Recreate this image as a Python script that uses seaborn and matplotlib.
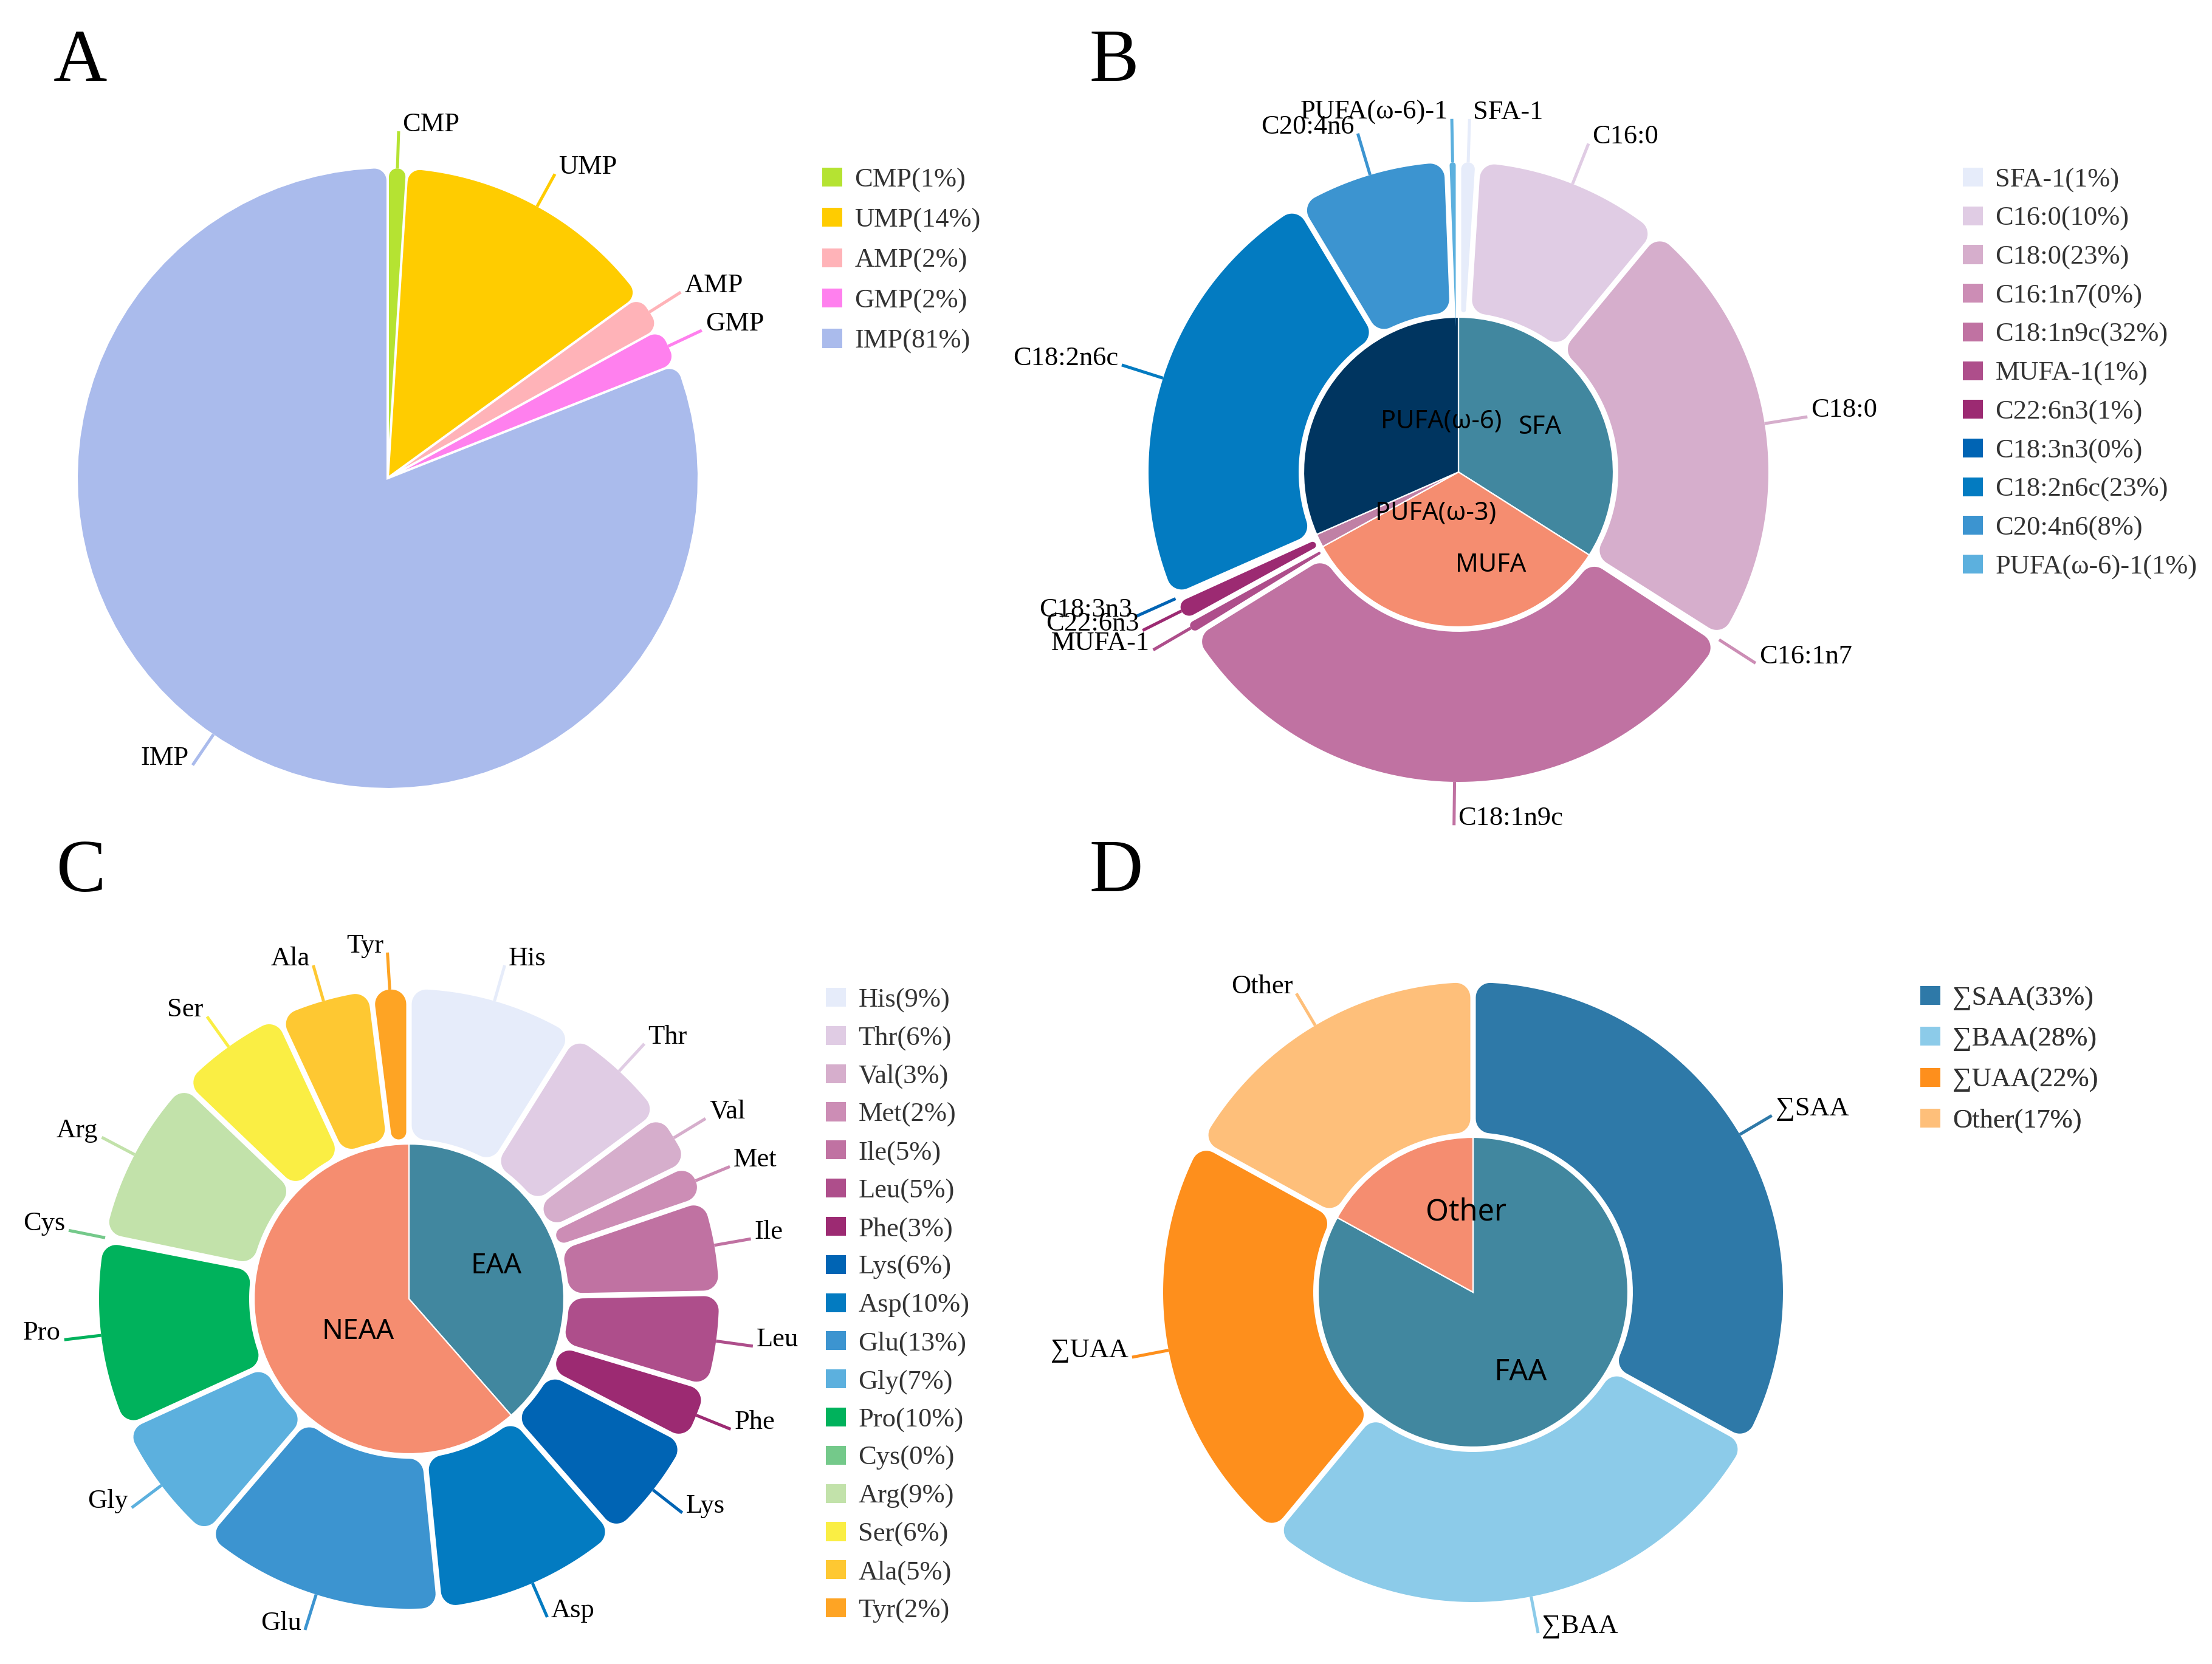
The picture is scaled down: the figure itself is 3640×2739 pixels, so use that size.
import numpy as np
import matplotlib
matplotlib.use("Agg")
import matplotlib.pyplot as plt
import seaborn as sns
from matplotlib.patches import Patch, PathPatch
from matplotlib.path import Path

# ---- A: nucleotides
nuc_names = ["CMP", "UMP", "AMP", "GMP", "IMP"]
nuc_values = [1, 14, 2, 2, 81]
nuc_colors = ["#b5e332", "#ffcc00", "#ffb3b8", "#ff80ee", "#aabbec"]

# ---- B: fatty acids (outer ring) and their classes (inner pie)
fa_names = ["SFA-1", "C16:0", "C18:0", "C16:1n7", "C18:1n9c", "MUFA-1",
            "C22:6n3", "C18:3n3", "C18:2n6c", "C20:4n6", "PUFA(ω-6)-1"]
fa_values = [1, 10, 23, 0.2, 32, 0.8, 1.2, 0.2, 23, 8, 0.6]
fa_group = [0, 0, 0, 1, 1, 1, 2, 2, 3, 3, 3]
fa_colors = ["#e6ecfa", "#e0cce4", "#d6aecc", "#cc8db5", "#c072a2", "#ae4e8b",
             "#9c2a72", "#0064b4", "#037bc1", "#3c94d0", "#5cb0de"]
fa_class_names = ["SFA", "MUFA", "PUFA(ω-3)", "PUFA(ω-6)"]
fa_class_colors = ["#41879f", "#f58d70", "#c080a5", "#003560"]

# ---- C: amino acids
aa_names = ["His", "Thr", "Val", "Met", "Ile", "Leu", "Phe", "Lys", "Asp",
            "Glu", "Gly", "Pro", "Cys", "Arg", "Ser", "Ala", "Tyr"]
aa_values = [9, 6, 3, 2, 5, 5, 3, 6, 10, 13, 7, 10, 0.2, 9, 6, 5, 2]
aa_group = [0] * 8 + [1] * 9
aa_colors = ["#e6ecfa", "#e0cce4", "#d6aecc", "#cc8db5", "#c072a2", "#ae4e8b",
             "#9c2a72", "#0064b4", "#037bc1", "#3c94d0", "#5cb0de", "#00b25c",
             "#74c98a", "#c2e2aa", "#faee44", "#fec832", "#fea424"]
aa_class_names = ["EAA", "NEAA"]
aa_class_colors = ["#41879f", "#f58d70"]

# ---- D: taste amino acids
taste_names = ["∑SAA", "∑BAA", "∑UAA", "Other"]
taste_values = [33, 28, 22, 17]
taste_group = [0, 0, 0, 1]
taste_colors = ["#2e79a8", "#8ccbe9", "#fe8f1c", "#febf7a"]
taste_class_names = ["FAA", "Other"]
taste_class_colors = ["#41879f", "#f58d70"]

W, H = 3640, 2739
SERIF = ["Liberation Serif", "DejaVu Serif"]
SANS = ["Noto Sans", "DejaVu Sans"]

sns.set_theme(style="white")
plt.rcParams["font.family"] = SERIF


def arc_pts(c, r, a0, a1, n=40):
    t = np.linspace(a0, a1, n)
    return np.column_stack([c[0] + r * np.cos(t), c[1] + r * np.sin(t)])


def fillet(ctr, rad, p, q, n=12):
    if rad <= 0.01:
        return np.array([p, q])
    a0 = np.arctan2(p[1] - ctr[1], p[0] - ctr[0])
    a1 = np.arctan2(q[1] - ctr[1], q[0] - ctr[0])
    d = (a1 - a0 + np.pi) % (2 * np.pi) - np.pi
    return arc_pts(ctr, rad, a0, a0 + d, n)


def rounded_path(w, corner, gap):
    # rebuild a pie wedge with a gap and rounded corners
    c0 = np.array(w.center)
    r1 = w.r
    r0 = r1 - w.width if w.width is not None else 0.0
    t1, t2 = np.radians(w.theta1), np.radians(w.theta2)
    h = gap / 2
    beta = (t2 - t1) / 2
    sb = np.sin(beta)
    if r1 * sb <= h + 0.5:
        return None
    u1 = np.array([np.cos(t1), np.sin(t1)]); n1 = np.array([-np.sin(t1), np.cos(t1)])
    u2 = np.array([np.cos(t2), np.sin(t2)]); n2 = np.array([np.sin(t2), -np.cos(t2)])
    thick = r1 - max(r0, h / sb)
    co = min(corner, thick / 2)
    if beta < np.pi / 2:
        co = min(co, (r1 * sb - h) / (1 + sb))
    co = max(co, 0)
    phi = np.arcsin((h + co) / (r1 - co))
    cen1 = (r1 - co) * np.array([np.cos(t1 + phi), np.sin(t1 + phi)])
    cen2 = (r1 - co) * np.array([np.cos(t2 - phi), np.sin(t2 - phi)])
    e1o = (r1 - co) * np.cos(phi) * u1 + h * n1
    e2o = (r1 - co) * np.cos(phi) * u2 + h * n2
    a1o = cen1 * r1 / (r1 - co)
    a2o = cen2 * r1 / (r1 - co)
    apex_mode = r0 * sb - h <= 0.5
    parts = []
    if apex_mode:
        apex = (h / sb) * np.array([np.cos(t1 + beta), np.sin(t1 + beta)])
        parts.append(apex[None, :])
    parts.append(fillet(cen1, co, e1o, a1o))
    parts.append(arc_pts((0, 0), r1, t1 + phi, t2 - phi, 80))
    parts.append(fillet(cen2, co, a2o, e2o))
    if not apex_mode:
        ci = min(corner, thick / 2)
        if beta < np.pi / 2:
            ci = min(ci, (r0 * sb - h) / (1 - sb))
        ci = max(ci, 0)
        psi = np.arcsin((h + ci) / (r0 + ci))
        d1 = (r0 + ci) * np.array([np.cos(t1 + psi), np.sin(t1 + psi)])
        d2 = (r0 + ci) * np.array([np.cos(t2 - psi), np.sin(t2 - psi)])
        e1i = (r0 + ci) * np.cos(psi) * u1 + h * n1
        e2i = (r0 + ci) * np.cos(psi) * u2 + h * n2
        parts.append(fillet(d2, ci, e2i, d2 * r0 / (r0 + ci)))
        parts.append(arc_pts((0, 0), r0, t2 - psi, t1 + psi, 40))
        parts.append(fillet(d1, ci, d1 * r0 / (r0 + ci), e1i))
    verts = np.vstack(parts) + c0
    verts = np.vstack([verts, verts[:1]])
    return Path(verts, closed=True)


def outer_ring(ax, values, colors, names, center, r_out, r_in, corner, gap, line_len=0.12):
    wp = dict(width=(r_out - r_in) if r_in > 0 else None)
    wedges, _ = ax.pie(values, colors=colors, radius=r_out, center=center,
                       startangle=90, counterclock=False, wedgeprops=wp)
    for w, col, name in zip(wedges, colors, names):
        p = rounded_path(w, corner, gap)
        w.set_visible(False)
        if p is not None:
            ax.add_patch(PathPatch(p, facecolor=col, edgecolor="none", zorder=2))
        m = np.radians((w.theta1 + w.theta2) / 2)
        d = np.array([np.cos(m), np.sin(m)])
        p0 = np.array(center) + d * r_out
        p1 = np.array(center) + d * r_out * (1 + line_len)
        ax.plot([p0[0], p1[0]], [p0[1], p1[1]], color=col, lw=1.8,
                solid_capstyle="butt", zorder=1)
        right = d[0] > 0 or d[1] < -0.99
        ax.text(p1[0] + (6 if right else -6), p1[1], name, ha="left" if right else "right",
                va="baseline", fontsize=16, family=SERIF, color="black")
    return wedges


def inner_pie(ax, values, groups, colors, names, center, radius, fs=15):
    sums = [sum(v for v, g in zip(values, groups) if g == k) for k in range(len(names))]
    wedges, _ = ax.pie(sums, colors=colors, radius=radius, center=center, startangle=90,
                       counterclock=False, wedgeprops=dict(edgecolor="white", linewidth=0.8))
    for w, name in zip(wedges, names):
        m = np.radians((w.theta1 + w.theta2) / 2)
        x = center[0] + 0.6 * radius * np.cos(m)
        y = center[1] + 0.6 * radius * np.sin(m)
        ax.text(x, y, name, ha="left" if np.cos(m) < 0 else "center", va="center",
                fontsize=fs, family=SANS, color="black", zorder=5)


def legend(ax, names, values, colors, x, y, spacing):
    tot = sum(values)
    handles = [Patch(facecolor=c, edgecolor="none",
                     label=f"{n}({int(round(v / tot * 100))}%)")
               for n, v, c in zip(names, values, colors)]
    lg = ax.legend(handles=handles, loc="upper left", bbox_to_anchor=(x, y),
                   bbox_transform=ax.transData, frameon=False, borderpad=0,
                   borderaxespad=0, handlelength=0.75, handleheight=0.7,
                   handletextpad=0.45, labelspacing=spacing,
                   prop=dict(family=SERIF, size=16))
    for t in lg.get_texts():
        t.set_color("#333333")
    ax.add_artist(lg)


fig = plt.figure(figsize=(W / 200, H / 200), dpi=200)
ax = fig.add_axes([0, 0, 1, 1])

R_OUT, R_RING, R_PIE = 510, 263, 255
cA, cB, cC, cD = (638, 1952), (2400, 1962), (673, 601), (2424, 612)

# A
outer_ring(ax, nuc_values, nuc_colors, nuc_names, cA, R_OUT, 0, 20, 4)
legend(ax, nuc_names, nuc_values, nuc_colors, 1353, 2463, 0.58)

# B
inner_pie(ax, fa_values, fa_group, fa_class_colors, fa_class_names, cB, R_PIE)
outer_ring(ax, fa_values, fa_colors, fa_names, cB, R_OUT, R_RING, 24, 9, 0.14)
legend(ax, fa_names, fa_values, fa_colors, 3230, 2463, 0.52)

# C
inner_pie(ax, aa_values, aa_group, aa_class_colors, aa_class_names, cC, R_PIE, 16.5)
outer_ring(ax, aa_values, aa_colors, aa_names, cC, R_OUT, R_RING, 24, 9)
legend(ax, aa_names, aa_values, aa_colors, 1359, 1113, 0.5)

# D
inner_pie(ax, taste_values, taste_group, taste_class_colors, taste_class_names, cD, R_PIE, 17.5)
outer_ring(ax, taste_values, taste_colors, taste_names, cD, R_OUT, R_RING, 24, 9)
legend(ax, taste_names, taste_values, taste_colors, 3160, 1116, 0.6)

for letter, x, y in [("A", 88, 2606), ("B", 1793, 2606), ("C", 93, 1272), ("D", 1793, 1272)]:
    ax.text(x, y, letter, fontsize=44, family=SERIF, ha="left", va="baseline", color="black")

ax.set_aspect("equal")
ax.set_xlim(0, W)
ax.set_ylim(0, H)
ax.axis("off")
fig.savefig("out.png", dpi=200, facecolor="white")
